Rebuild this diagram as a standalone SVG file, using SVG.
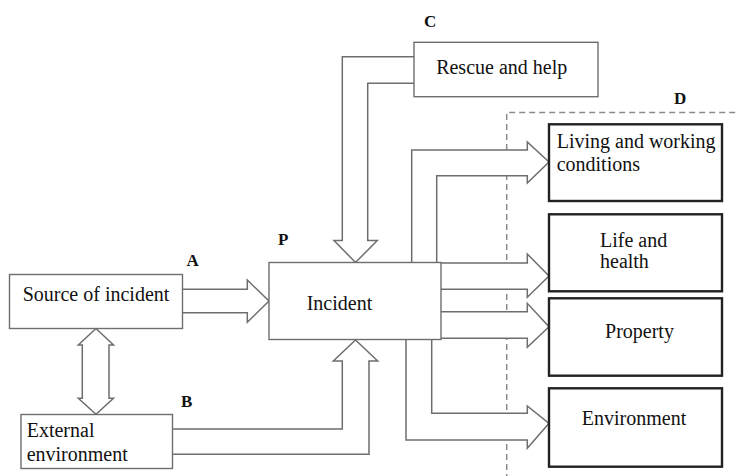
<svg xmlns="http://www.w3.org/2000/svg" width="738" height="476" viewBox="0 0 738 476">
<style>
.box{fill:#fff;stroke:#6e6e6e;stroke-width:1.4}
.dbox{fill:#fff;stroke:#222;stroke-width:2.4}
.arr{fill:#fff;stroke:#6e6e6e;stroke-width:1.5;stroke-linejoin:miter}
.dash{fill:none;stroke:#8a8a8a;stroke-width:1.5;stroke-dasharray:6 4}
</style>
<rect width="738" height="476" fill="#fff"/>
<path class="dash" d="M506.7,480 V112.5 H740"/>
<g id="connectors">
<path class="arr" d="M182.7,289.3 H247.3 V280 L269,301 L247.3,322.3 V312.7 H182.7"/>
<path class="arr" d="M414,56.7 H342.3 V240.5 H334 L355.5,262.5 L377.3,240.5 H367.7 V83.3 H414"/>
<path class="arr" d="M172.7,429 H342.3 V361 H333.3 L355.5,340 L377.7,361 H369 V454.3 H172.7"/>
<path class="arr" d="M96,328.5 L113.5,345 H109 V398.3 H113.5 L96,414.3 L78.3,398.3 H82.3 V345 H78.3 Z"/>
<path class="arr" d="M411.7,262.5 V150 H527.3 V142 L549,162 L527.3,183 V175.7 H436.7 V262.5"/>
<path class="arr" d="M441,263 H527.3 V254 L549,276 L527.3,297.3 V289.3 H441"/>
<path class="arr" d="M441,311.7 H527.3 V303.3 L549,326.7 L527.3,347.3 V338.3 H441"/>
<path class="arr" d="M431.7,339.5 V413.3 H527.3 V406 L549,423.3 L527.3,448.3 V440 H406 V339.5"/>
</g>
<g id="source">
<rect class="box" x="9.5" y="274.5" width="173" height="54"/>
<text font-family="'Liberation Serif', serif" font-size="20" fill="#111" x="22.7" y="301">Source of incident</text>
<text font-family="'Liberation Serif', serif" font-size="17" font-weight="bold" fill="#111" x="186.5" y="266">A</text>
</g>
<g id="incident">
<rect class="box" x="269" y="262.5" width="172" height="77"/>
<text font-family="'Liberation Serif', serif" font-size="20" fill="#111" x="306.7" y="310">Incident</text>
<text font-family="'Liberation Serif', serif" font-size="17" font-weight="bold" fill="#111" x="278" y="245">P</text>
</g>
<g id="external">
<rect class="box" x="21" y="414.5" width="151.5" height="54"/>
<text font-family="'Liberation Serif', serif" font-size="20" fill="#111" x="26.7" y="436.7">External</text>
<text font-family="'Liberation Serif', serif" font-size="20" fill="#111" x="26.7" y="461">environment</text>
<text font-family="'Liberation Serif', serif" font-size="17" font-weight="bold" fill="#111" x="181" y="406.5">B</text>
</g>
<g id="rescue">
<rect class="box" x="414" y="42.3" width="184" height="54.4"/>
<text font-family="'Liberation Serif', serif" font-size="20" fill="#111" x="501.7" y="74" text-anchor="middle">Rescue and help</text>
<text font-family="'Liberation Serif', serif" font-size="17" font-weight="bold" fill="#111" x="424" y="26.7">C</text>
</g>
<g id="consequences">
<text font-family="'Liberation Serif', serif" font-size="17" font-weight="bold" fill="#111" x="674" y="104">D</text>
</g>
<g id="living">
<rect class="dbox" x="549" y="124.3" width="173" height="76.7"/>
<text font-family="'Liberation Serif', serif" font-size="20" fill="#111" x="556.7" y="148.3">Living and working</text>
<text font-family="'Liberation Serif', serif" font-size="20" fill="#111" x="556.7" y="170.7">conditions</text>
</g>
<g id="life">
<rect class="dbox" x="549" y="214.3" width="173" height="77"/>
<text font-family="'Liberation Serif', serif" font-size="20" fill="#111" x="600" y="246.7">Life and</text>
<text font-family="'Liberation Serif', serif" font-size="20" fill="#111" x="600" y="268.3">health</text>
</g>
<g id="property">
<rect class="dbox" x="549" y="298.3" width="173" height="77.4"/>
<text font-family="'Liberation Serif', serif" font-size="20" fill="#111" x="639.5" y="338.3" text-anchor="middle">Property</text>
</g>
<g id="environment">
<rect class="dbox" x="549" y="388.3" width="173" height="78.4"/>
<text font-family="'Liberation Serif', serif" font-size="20" fill="#111" x="634" y="425" text-anchor="middle">Environment</text>
</g>
</svg>
